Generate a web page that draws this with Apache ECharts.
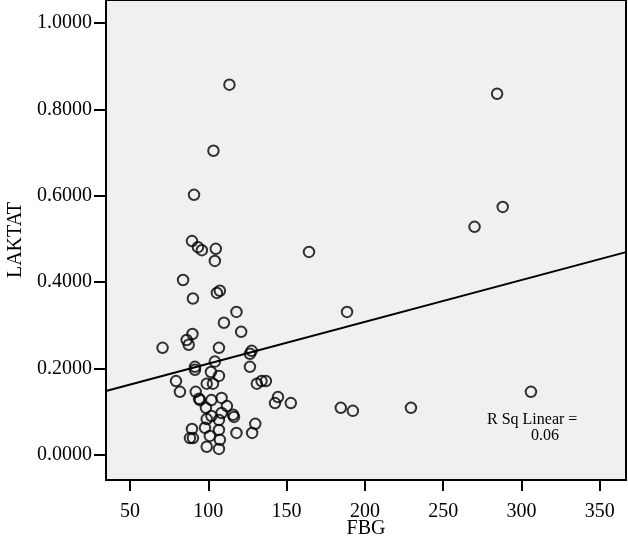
<!DOCTYPE html>
<html>
<head>
<meta charset="utf-8">
<script src="https://cdn.jsdelivr.net/npm/echarts@6/dist/echarts.min.js"></script>
<style>
  html, body { margin: 0; padding: 0; background: #fff; }
  #ScatterLaktat { width: 628px; height: 538px; }
</style>
</head>
<body>
<div id="ScatterLaktat"></div>
<script>
// FBG (x) values
const fbgList = [
  113.5, 103.3, 90.9, 89.6, 93.4, 95.9, 104.8, 104.2, 164.3, 83.9,
  90.2, 105.5, 107.4, 118, 110, 121, 188.6, 89.9, 86.2, 87.5,
  70.8, 106.8, 127.7, 126.6, 104.2, 91.5, 91.5, 126.6, 101.7, 106.8,
  79.4, 99, 103, 131, 134, 136.8, 81.9, 92, 94.7, 94.1,
  102, 108.5, 142.6, 144.5, 152.7, 98.5, 111.9, 115.8, 116.4, 108.5,
  102, 99, 106.8, 97.9, 106.8, 89.6, 88.3, 90.2, 101, 118,
  130, 128, 107.4, 99, 106.8, 184.6, 192.3, 229.4, 306, 270,
  288, 284.4
];
// LAKTAT (y) values
const laktatList = [
  0.857, 0.704, 0.602, 0.495, 0.481, 0.474, 0.477, 0.449, 0.470, 0.405,
  0.362, 0.375, 0.380, 0.331, 0.306, 0.285, 0.331, 0.280, 0.266, 0.255,
  0.248, 0.248, 0.241, 0.234, 0.216, 0.204, 0.197, 0.204, 0.192, 0.183,
  0.171, 0.165, 0.165, 0.165, 0.171, 0.171, 0.146, 0.146, 0.127, 0.130,
  0.127, 0.132, 0.120, 0.134, 0.120, 0.109, 0.113, 0.093, 0.088, 0.097,
  0.090, 0.083, 0.081, 0.063, 0.058, 0.060, 0.039, 0.039, 0.044, 0.051,
  0.072, 0.051, 0.035, 0.019, 0.014, 0.109, 0.102, 0.109, 0.146, 0.528,
  0.574, 0.836
];
const xTicks = [50, 100, 150, 200, 250, 300, 350];
const yTicks = [0, 0.2, 0.4, 0.6, 0.8, 1.0];
// linear fit (R Sq Linear = 0.06)
const fitIntercept = 0.1144;
const fitSlope = 0.000968;

const xMin = 34.7, xMax = 366.7;
const yMin = -0.058, yMax = 1.053;

const points = fbgList.map((v, i) => [v, laktatList[i]]);
const fitLine = [
  [xMin, fitIntercept + fitSlope * xMin],
  [xMax, fitIntercept + fitSlope * xMax],
];

const font = '"Liberation Serif", "Times New Roman", serif';
const chart = echarts.init(document.getElementById('ScatterLaktat'));
chart.setOption({
  animation: false,
  backgroundColor: '#fff',
  grid: {
    left: 106,
    right: 2,
    top: 0,
    bottom: 58,
    outerBoundsMode: 'none',
    containLabel: false,
    show: true,
    backgroundColor: '#f0f0f0',
    borderColor: '#000',
    borderWidth: 2,
  },
  xAxis: {
    type: 'value',
    min: xMin,
    max: xMax,
    name: 'FBG',
    nameLocation: 'middle',
    nameGap: 39,
    nameMoveOverlap: false,
    nameTextStyle: { fontFamily: font, fontSize: 20, color: '#000' },
    axisLine: { onZero: false, lineStyle: { color: '#000', width: 2 } },
    axisTick: { customValues: xTicks, length: 11, lineStyle: { color: '#000', width: 2 } },
    axisLabel: {
      customValues: xTicks,
      margin: 22,
      fontFamily: font,
      fontSize: 20,
      color: '#000',
    },
    splitLine: { show: false },
  },
  yAxis: {
    type: 'value',
    min: yMin,
    max: yMax,
    name: 'LAKTAT',
    nameLocation: 'middle',
    nameGap: 80,
    nameMoveOverlap: false,
    nameTextStyle: { fontFamily: font, fontSize: 20, color: '#000' },
    axisLine: { onZero: false, lineStyle: { color: '#000', width: 2 } },
    axisTick: { customValues: yTicks, length: 12, lineStyle: { color: '#000', width: 2 } },
    axisLabel: {
      customValues: yTicks,
      margin: 14,
      fontFamily: font,
      fontSize: 20,
      color: '#000',
      formatter: (v) => v.toFixed(4),
    },
    splitLine: { show: false },
  },
  series: [
    {
      type: 'line',
      data: fitLine,
      showSymbol: false,
      silent: true,
      lineStyle: { color: '#000', width: 2 },
      z: 2,
    },
    {
      type: 'scatter',
      data: points,
      symbol: 'circle',
      symbolSize: 10.5,
      itemStyle: { color: 'transparent', borderColor: '#000', borderWidth: 2 },
      z: 3,
    },
  ],
  graphic: [
    {
      type: 'text',
      left: 487,
      top: 412,
      style: { text: 'R Sq Linear =', font: '16px ' + font, fill: '#000' },
    },
    {
      type: 'text',
      left: 531,
      top: 428,
      style: { text: '0.06', font: '16px ' + font, fill: '#000' },
    },
  ],
});
</script>
</body>
</html>
